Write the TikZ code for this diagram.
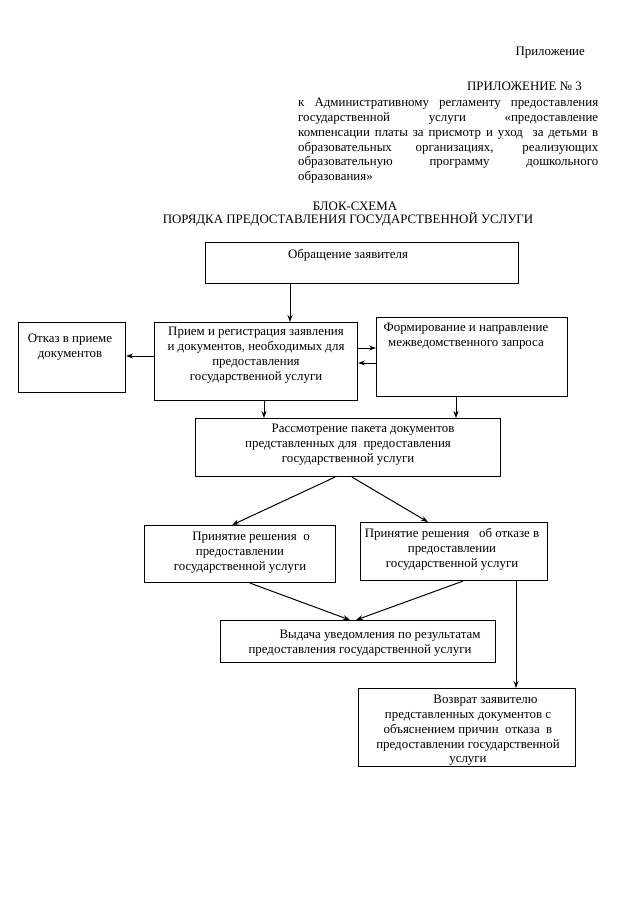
\documentclass[tikz,border=0pt]{standalone}
\usepackage{fontspec}
\setmainfont{Liberation Serif}
\usetikzlibrary{arrows.meta}
\begin{document}
\begin{tikzpicture}[x=1pt,y=-1pt,
  every node/.style={font=\fontsize{12.9}{14.8}\selectfont, inner sep=0pt},
  box/.style={draw, line width=1.1pt, anchor=north west, inner sep=0pt},
  txt/.style={anchor=north, align=center},
  arr/.style={line width=1pt, -{Stealth[length=7pt,width=5pt]}}]
\useasboundingbox (0,0) rectangle (640,905);
\fill[white] (0,0) rectangle (640,905);
% header
\node[anchor=east] (hdr1) at (585,53) {Приложение};
\node[anchor=east] (hdr2) at (582,86) {ПРИЛОЖЕНИЕ № 3};
\node[anchor=north west, text width=300pt, align=justify] (hdr3) at (298,98)
 {к Административному регламенту предоставления\linebreak
  государственной услуги «предоставление\linebreak
  компенсации платы за присмотр и уход \ за детьми в\linebreak
  образовательных организациях, реализующих\linebreak
  образовательную программу дошкольного\linebreak
  образования»};
\node (tt1) at (355,206) {БЛОК-СХЕМА};
\node (tt2) at (348,219) {ПОРЯДКА ПРЕДОСТАВЛЕНИЯ ГОСУДАРСТВЕННОЙ УСЛУГИ};
% boxes
\node[box, minimum width=313pt, minimum height=41pt] (obr) at (205,242) {};
\node[txt] (obrt) at (348,249) {Обращение заявителя};
\node[box, minimum width=107pt, minimum height=70pt] (otk) at (18,322) {};
\node[txt] (otkt) at (70,334) {Отказ в приеме\\документов};
\node[box, minimum width=203pt, minimum height=78pt] (pri) at (154,322) {};
\node[txt] (prit) at (256,327) {Прием и регистрация заявления\\и документов, необходимых для\\предоставления\\государственной услуги};
\node[box, minimum width=191pt, minimum height=79pt] (frm) at (376,317) {};
\node[txt] (frmt) at (466,323) {Формирование и направление\\межведомственного запроса};
\node[box, minimum width=305pt, minimum height=58pt] (ras) at (195,418) {};
\node[txt] (rast) at (348,424) {\hspace*{30pt}Рассмотрение пакета документов\\представленных для \ предоставления\\государственной услуги};
\node[box, minimum width=191pt, minimum height=57pt] (pro) at (144,525) {};
\node[txt] (prot) at (240,532) {\hspace*{22pt}Принятие решения \ о\\предоставлении\\государственной услуги};
\node[box, minimum width=187pt, minimum height=58pt] (pot) at (360,522) {};
\node[txt] (pott) at (452,528) {Принятие решения \ \ об отказе в\\предоставлении\\государственной услуги};
\node[box, minimum width=275pt, minimum height=42pt] (vyd) at (220,620) {};
\node[txt] (vydt) at (360,630) {\hspace*{40pt}Выдача уведомления по результатам\\предоставления государственной услуги};
\node[box, minimum width=217pt, minimum height=78pt] (voz) at (358,688) {};
\node[txt] (vozt) at (468,695) {\hspace*{35pt}Возврат заявителю\\представленных документов с\\объяснением причин \ отказа \ в\\предоставлении государственной\\услуги};
% connectors
\draw[arr] (obr.south -| 290,0) -- (pri.north -| 290,0);
\draw[arr] (pri.west |- 0,356) -- (otk.east |- 0,356);
\draw[arr] (pri.east |- 0,348) -- (frm.west |- 0,348);
\draw[arr] (frm.west |- 0,363) -- (pri.east |- 0,363);
\draw[arr] (pri.south -| 264,0) -- (ras.north -| 264,0);
\draw[arr] (frm.south -| 456,0) -- (ras.north -| 456,0);
\draw[arr] (ras.south -| 335,0) -- (pro.north -| 232,0);
\draw[arr] (ras.south -| 352,0) -- (pot.north -| 428,0);
\draw[arr] (pro.south -| 250,0) -- (vyd.north -| 350,0);
\draw[arr] (pot.south -| 463,0) -- (vyd.north -| 356,0);
\draw[arr] (pot.south -| 516,0) -- (voz.north -| 516,0);
\end{tikzpicture}
\end{document}
